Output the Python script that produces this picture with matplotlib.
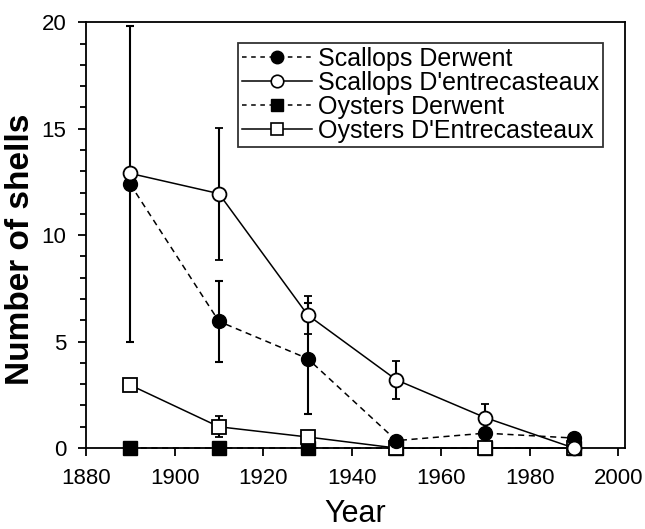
import matplotlib.pyplot as plt
from matplotlib.lines import Line2D
from matplotlib.ticker import MultipleLocator

plt.rcParams['font.family'] = ['Liberation Sans', 'DejaVu Sans']

years = [1890, 1910, 1930, 1950, 1970, 1990]

# scallops, Derwent (filled circle, dashed)
scal_der = [12.4, 5.95, 4.2, 0.35, 0.7, 0.47]
scal_der_err = [7.4, 1.9, 2.6, 0.0, 0.0, 0.0]
# scallops, D'entrecasteaux (open circle, solid)
scal_dent = [12.9, 11.95, 6.25, 3.2, 1.43, 0.0]
scal_dent_err = [0.0, 3.1, 0.9, 0.9, 0.65, 0.0]
# oysters, Derwent (filled square, dashed)
oys_der = [0, 0, 0, 0, 0, 0]
# oysters, D'Entrecasteaux (open square, solid)
oys_dent = [2.96, 1.0, 0.52, 0.0, 0.0, 0.0]
oys_dent_err = [0.0, 0.5, 0.0, 0.0, 0.0, 0.0]

labels = ['Scallops Derwent', "Scallops D'entrecasteaux",
          'Oysters Derwent', "Oysters D'Entrecasteaux"]

fig = plt.figure(figsize=(6.45, 5.29), dpi=100)
ax = fig.add_axes([0.133, 0.153, 0.836, 0.805])

ms = 10
kw = dict(color='black', lw=1.1, capsize=3, elinewidth=1.5, capthick=1.5, clip_on=False)

ax.errorbar(years, oys_der, fmt='s--', ms=ms, mfc='black', mec='black',
            dashes=(4, 3), zorder=3, **kw)
ax.errorbar(years, oys_dent, yerr=oys_dent_err, fmt='s-', ms=ms, mfc='white', mec='black',
            mew=1.3, zorder=4, **kw)
ax.errorbar(years, scal_der, yerr=scal_der_err, fmt='o--', ms=ms, mfc='black', mec='black',
            dashes=(4, 3), zorder=5, **kw)
ax.errorbar(years, scal_dent, yerr=scal_dent_err, fmt='o-', ms=ms, mfc='white', mec='black',
            mew=1.3, zorder=6, **kw)

ax.set_xlim(1880, 2001.5)
ax.set_ylim(0, 20)
ax.xaxis.set_major_locator(MultipleLocator(20))
ax.yaxis.set_major_locator(MultipleLocator(5))
ax.yaxis.set_minor_locator(MultipleLocator(1))
ax.tick_params(which='both', direction='out', width=1.3, labelsize=16)
ax.tick_params(which='major', length=6)
ax.tick_params(which='minor', length=4)
ax.tick_params(axis='x', pad=8)
ax.tick_params(axis='y', pad=8)
for s in ax.spines.values():
    s.set_linewidth(1.3)

ax.set_ylabel('Number of shells', fontsize=24, fontweight='bold')
ax.yaxis.set_label_coords(-0.092, 0.467)
ax.set_xlabel('Year', fontsize=22)
ax.xaxis.set_label_coords(0.5, -0.12)

handles = [
    Line2D([], [], color='black', lw=1.1, ls='--', dashes=(3, 3), marker='o', ms=9, mfc='black'),
    Line2D([], [], color='black', lw=1.1, ls='-', marker='o', ms=9, mfc='white', mew=1.2),
    Line2D([], [], color='black', lw=1.1, ls='--', dashes=(3, 3), marker='s', ms=9, mfc='black'),
    Line2D([], [], color='black', lw=1.1, ls='-', marker='s', ms=9, mfc='white', mew=1.2),
]
leg = ax.legend(handles, labels, loc='upper right', bbox_to_anchor=(0.959, 0.951),
                fontsize=18, frameon=True, fancybox=False, edgecolor='black',
                handlelength=2.8, labelspacing=0.0, borderpad=0.15,
                handletextpad=0.25, borderaxespad=0)
leg.get_frame().set_linewidth(1.3)

fig.savefig('out.png', dpi=100)
